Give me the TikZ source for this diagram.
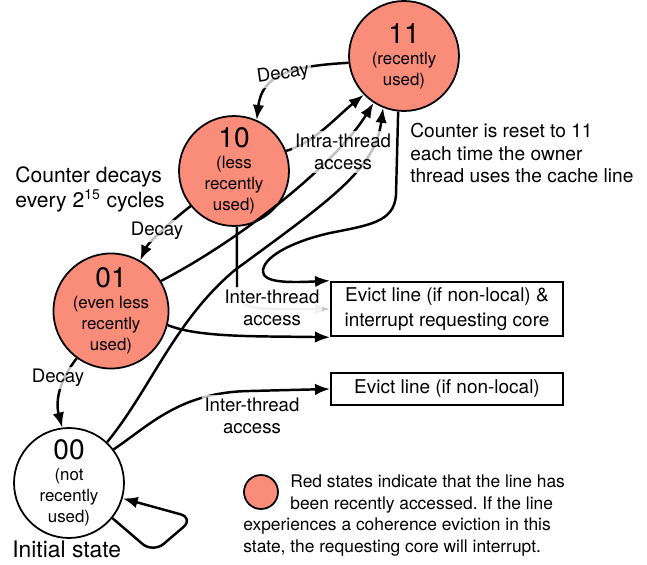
\documentclass[tikz,border=0pt]{standalone}
\usepackage{fontspec}
\setmainfont{TeX Gyre Heros}
\usetikzlibrary{arrows.meta}
\frenchspacing
\definecolor{recent}{RGB}{250,140,122}
\definecolor{fadeline}{RGB}{200,200,200}

\tikzset{
  state/.style={circle, draw, line width=1pt, minimum size=2.2cm, inner sep=0pt,
    align=center, font=\fontsize{9.6}{12}\selectfont},
  hotstate/.style={state, fill=recent},
  outcome/.style={draw, line width=1.1pt, minimum width=4.64cm, align=center,
    font=\fontsize{10.8}{14.2}\selectfont},
  trans/.style={line width=1.4pt, -{Latex[length=3mm,width=2.3mm]}},
  plain/.style={line width=1.4pt},
  lbl/.style={fill=white, fill opacity=0.75, text opacity=1, inner sep=1.5pt,
    align=center, font=\fontsize{10.6}{12.5}\selectfont},
  note/.style={inner sep=0pt, align=left, anchor=west},
}
\newcommand{\bigdigits}[1]{{\fontsize{16}{14}\selectfont #1}}

\begin{document}
\begin{tikzpicture}[x=0.02cm, y=-0.02cm]
\useasboundingbox (0,0) rectangle (647,565);
% states
\node[hotstate] (s11) at (404,56) {\bigdigits{11}\\(recently\\used)};
\node[hotstate] (s10) at (234,171) {\bigdigits{10}\\(less\\recently\\used)};
\node[hotstate] (s01) at (111,311) {\bigdigits{01}\\(even less\\recently\\used)};
\node[state] (s00) at (69,483) {\bigdigits{00}\\(not\\recently\\used)};
% outcomes
\node[outcome, minimum height=1.04cm] (evint) at (447,309) {Evict line (if non-local) \&\\interrupt requesting core};
\node[outcome, minimum height=0.64cm] (ev) at (447,389) {Evict line (if non-local)};

% decay
\draw[trans] (s11.187) .. controls (290,66) and (262,75) .. (s10.66);
\draw[trans] (s10.219) .. controls (170,222) and (148,243) .. (s01.60);
\draw[trans] (s01.234) .. controls (60,380) and (55,400) .. (s00.97);
% intra-thread
\draw[trans] (s10.21) .. controls (315,142) and (335,118) .. (s11.224);
\draw[trans] (s01.31) .. controls (240,240) and (335,165) .. (s11.237);
\draw[trans] (s00.47) .. controls (150,390) and (175,320) .. (235,270)
  .. controls (330,200) and (375,170) .. (s11.248);
% inter-thread
\draw[trans] (s11.264) -- (396,195) .. controls (394,222) and (370,225) .. (330,233)
  .. controls (290,242) and (262,258) .. (263,272)
  .. controls (264,282) and (285,283) .. (evint.north west);
\coordinate (bend10) at (237,288);
\draw[plain] (s10.273) -- (bend10);
\draw[trans, fadeline] (bend10) .. controls (238,307) and (250,309) .. (280,309) -- (evint.west);
\draw[trans] (s01.346) .. controls (200,338) and (260,336) .. (evint.south west);
\draw[trans] (s00.37) .. controls (150,425) and (180,392) .. (250,391) -- (ev.west);
\draw[trans, rounded corners=8pt] (s00.321) -- (153,553) -- (194,518) -- (s00.344);

% labels
\node[lbl, rotate=8] (d1) at (283,74) {Decay};
\node[lbl] (d2) at (157,231) {Decay};
\node[lbl] (d3) at (58,378) {Decay};
\node[lbl] (intra) at (343,152) {Intra-thread\\access};
\node[lbl] (inter1) at (272,308) {Inter-thread\\access};
\node[lbl] (inter2) at (252,416) {Inter-thread\\access};

% notes
\node[note, font=\fontsize{12}{14.2}\selectfont] (decaynote) at (15,189)
  {Counter decays\\every 2\textsuperscript{15} cycles};
\node[note, font=\fontsize{10.9}{13}\selectfont] (resetnote) at (410,153)
  {Counter is reset to 11\\each time the owner\\thread uses the cache line};
\node[note, font=\fontsize{13}{15}\selectfont] (initial) at (12,549) {Initial state};

% legend
\node[circle, draw, line width=1pt, fill=recent, minimum size=0.68cm] (legdot) at (261,492) {};
\node[note, font=\fontsize{9.9}{12.4}\selectfont] (legtxt1) at (290,494)
  {Red states indicate that the line has\\been recently accessed. If the line};
\node[note, font=\fontsize{9.9}{12.4}\selectfont] (legtxt2) at (243,537)
  {experiences a coherence eviction in this\\state, the requesting core will interrupt.};
\end{tikzpicture}
\end{document}
